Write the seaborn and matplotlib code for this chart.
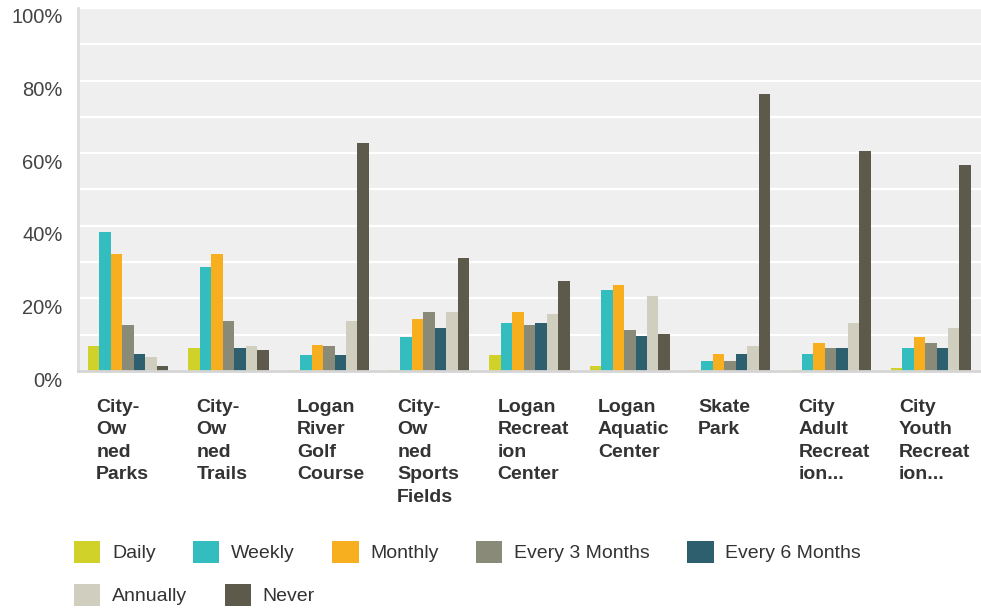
import pandas as pd
import seaborn as sns
import matplotlib.pyplot as plt
from matplotlib.patches import Patch
from matplotlib.transforms import ScaledTranslation

# ---- data (percent of respondents) ----
facilities = ["City-Owned Parks", "City-Owned Trails", "Logan River Golf Course",
              "City-Owned Sports Fields", "Logan Recreation Center", "Logan Aquatic Center",
              "Skate Park", "City Adult Recreation...", "City Youth Recreation..."]
tick_labels = ["City-\nOw\nned\nParks", "City-\nOw\nned\nTrails", "Logan\nRiver\nGolf\nCourse",
               "City-\nOw\nned\nSports\nFields", "Logan\nRecreat\nion\nCenter", "Logan\nAquatic\nCenter",
               "Skate\nPark", "City\nAdult\nRecreat\nion...", "City\nYouth\nRecreat\nion..."]
frequencies = ["Daily", "Weekly", "Monthly", "Every 3 Months", "Every 6 Months", "Annually", "Never"]
colors = ["#D0D22A", "#33BDBF", "#F7AF1F", "#8A8A78", "#2D5F6E", "#CFCEBF", "#5D5A4B"]

daily = [6.9, 6.3, 0.3, 0.3, 4.4, 1.4, 0.3, 0.3, 0.8]
weekly = [38.3, 28.6, 4.4, 9.4, 13.2, 22.3, 2.8, 4.7, 6.3]
monthly = [32.2, 32.2, 7.2, 14.3, 16.3, 23.7, 4.7, 7.7, 9.4]
every_3 = [12.7, 13.8, 6.9, 16.3, 12.7, 11.3, 2.8, 6.3, 7.7]
every_6 = [4.7, 6.3, 4.4, 11.8, 13.2, 9.6, 4.7, 6.3, 6.3]
annually = [3.9, 6.9, 13.8, 16.3, 15.7, 20.7, 6.9, 13.2, 11.8]
never = [1.4, 5.8, 62.8, 31.1, 24.8, 10.2, 76.3, 60.6, 56.7]

series = [daily, weekly, monthly, every_3, every_6, annually, never]
rows = []
for freq, vals in zip(frequencies, series):
    for fac, v in zip(facilities, vals):
        rows.append({"facility": fac, "frequency": freq, "pct": v})
df = pd.DataFrame(rows)

# ---- plot ----
sns.set_theme(style="white")
plt.rcParams["font.family"] = ["Liberation Sans", "DejaVu Sans"]

fig = plt.figure(figsize=(9.81, 6.09), dpi=100)
ax = fig.add_axes([0.0795, 0.3908, 0.9205, 0.5961])

sns.barplot(data=df, x="facility", y="pct", hue="frequency", order=facilities,
            hue_order=frequencies, palette=colors, saturation=1, width=0.8,
            linewidth=0, legend=False, ax=ax)

ax.set_facecolor("#efefef")
ax.set_xlim(-0.5, 8.5)
ax.set_ylim(0, 100)
ax.set_xlabel("")
ax.set_ylabel("")

ax.set_yticks(range(0, 101, 20))
ax.set_yticks(range(10, 100, 20), minor=True)
ax.set_yticklabels([f"{v}%" for v in range(0, 101, 20)], fontsize=14.5, color="#444444")
ax.yaxis.grid(True, which="both", color="white", linewidth=1.6)
ax.xaxis.grid(False)
ax.set_axisbelow(True)
ax.tick_params(axis="both", which="both", length=0)
ax.tick_params(axis="y", pad=11)
ax.tick_params(axis="x", pad=20)

ax.set_xticks(range(len(facilities)))
ax.set_xticklabels(tick_labels, fontsize=14, fontweight="bold", color="#333333",
                   ha="left", linespacing=1.42)

for lab in ax.get_yticklabels():
    lab.set_transform(lab.get_transform() + ScaledTranslation(0, -0.08, fig.dpi_scale_trans))
for lab in ax.get_xticklabels():
    lab.set_transform(lab.get_transform() + ScaledTranslation(-0.32, 0, fig.dpi_scale_trans))

for side in ["top", "right"]:
    ax.spines[side].set_visible(False)
ax.spines["left"].set_color("#dcdcdc")
ax.spines["left"].set_linewidth(2)
ax.spines["bottom"].set_color("#d5d5d5")
ax.spines["bottom"].set_linewidth(2)

# ---- legend (two rows, flowing like the original) ----
handles = [Patch(facecolor=c, edgecolor="none") for c in colors]
leg_kw = dict(frameon=False, fontsize=14, handlelength=1.35, handleheight=1.35,
              handletextpad=0.6, columnspacing=1.93, borderpad=0, borderaxespad=0,
              labelcolor="#333333", loc="center left")
leg1 = fig.legend(handles[:5], frequencies[:5], ncol=5,
                  bbox_to_anchor=(74 / 981, 1 - 552 / 609), **leg_kw)
leg2 = fig.legend(handles[5:], frequencies[5:], ncol=2,
                  bbox_to_anchor=(74 / 981, 1 - 595 / 609), **leg_kw)

fig.savefig("out.png", dpi=100)
